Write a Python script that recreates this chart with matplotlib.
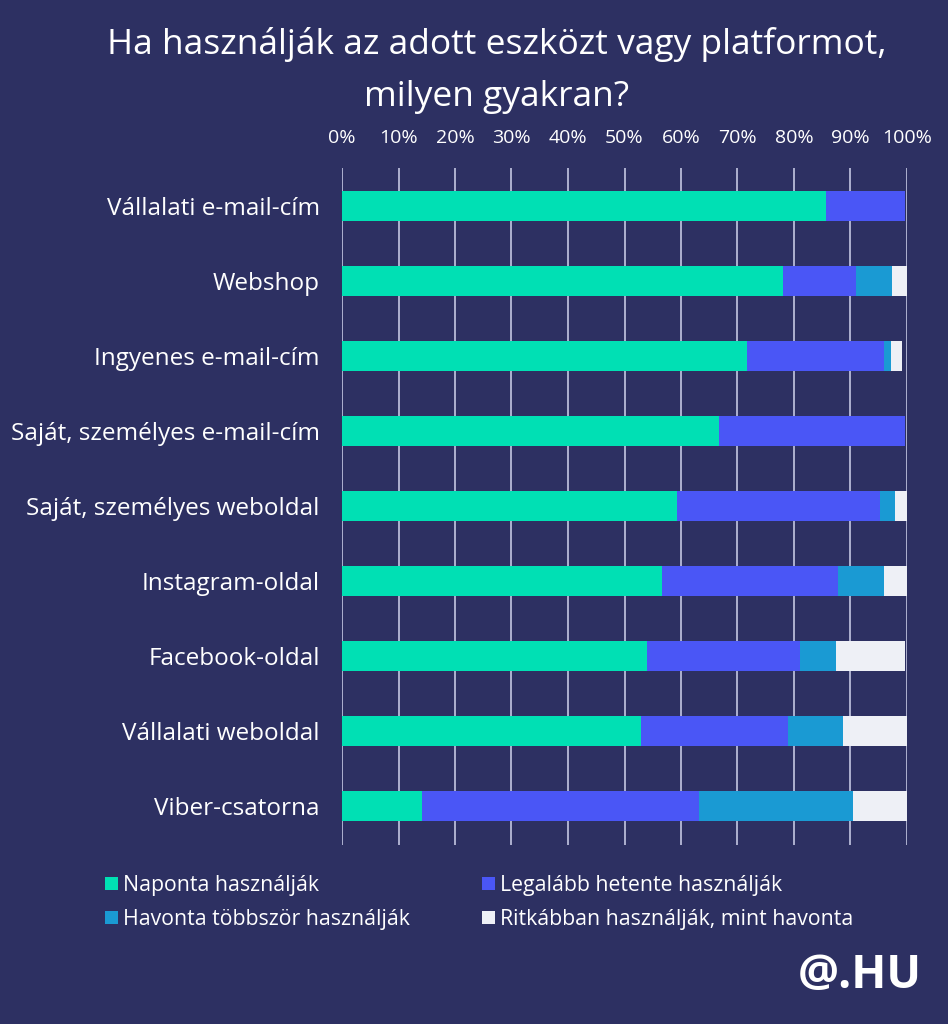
import matplotlib
matplotlib.use('Agg')
import matplotlib.pyplot as plt
import numpy as np

# Data (percent of respondents)
categories = ['Vállalati e-mail-cím', 'Webshop', 'Ingyenes e-mail-cím',
              'Saját, személyes e-mail-cím', 'Saját, személyes weboldal',
              'Instagram-oldal', 'Facebook-oldal', 'Vállalati weboldal',
              'Viber-csatorna']
daily = [85.6, 78.0, 71.7, 66.7, 59.3, 56.6, 53.9, 52.9, 14.2]
weekly = [14.1, 13.0, 24.2, 33.0, 35.9, 31.2, 27.1, 26.0, 49.0]
monthly = [0.0, 6.4, 1.3, 0.0, 2.7, 8.1, 6.5, 9.7, 27.2]
rarely = [0.0, 2.6, 2.0, 0.0, 2.2, 4.1, 12.2, 11.4, 9.6]
series_names = ['Naponta használják', 'Legalább hetente használják',
                'Havonta többször használják', 'Ritkábban használják, mint havonta']
tick_values = [0, 10, 20, 30, 40, 50, 60, 70, 80, 90, 100]

BG = '#2d3062'
colors = ['#00e0b4', '#4a56f6', '#1a9ad3', '#eef0f6']
FONT = 'Open Sans'

fig = plt.figure(figsize=(9.48, 10.24), dpi=100, facecolor=BG)
ax = fig.add_axes([342 / 948, 1 - 845 / 1024, 565 / 948, 677 / 1024], facecolor=BG)

y = np.arange(len(categories))
left = np.zeros(len(categories))
handles = []
for vals, name, col in zip([daily, weekly, monthly, rarely], series_names, colors):
    bars = ax.barh(y, vals, left=left, height=0.4, color=col, label=name, zorder=3)
    handles.append(bars)
    left += np.array(vals)

ax.set_xlim(0, 100)
ax.set_ylim(len(categories) - 0.48, -0.5)
ax.set_xticks(tick_values)
ax.set_xticklabels([f'{v}%' for v in tick_values], fontsize=14, color='white', family=FONT)
ax.xaxis.tick_top()
ax.tick_params(axis='x', length=0, pad=15)
ax.grid(axis='x', color='#c4c7e2', linewidth=1.2, zorder=0)
ax.set_yticks(y)
ax.set_yticklabels(categories, fontsize=17.5, color='white', family=FONT)
ax.tick_params(axis='y', length=0, pad=16)
for s in ax.spines.values():
    s.set_visible(False)

fig.text(497 / 948, 1 - 27 / 1024, 'Ha használják az adott eszközt vagy platformot,\nmilyen gyakran?',
         ha='center', va='top', fontsize=25.5, color='white', family=FONT, linespacing=1.7)

# legend: column-wise order to match the 2x2 layout
order = [0, 2, 1, 3]
leg = fig.legend([handles[i] for i in order], [series_names[i] for i in order],
                 ncol=2, loc='upper left', bbox_to_anchor=(86 / 948, 1 - 856 / 1024),
                 frameon=False, handlelength=0.6, handleheight=0.6,
                 handletextpad=0.25, columnspacing=3.4, labelspacing=0.6,
                 prop={'family': FONT, 'size': 15.3}, labelcolor='white')

fig.text(860 / 948, 1 - 975 / 1024, '@.HU', ha='center', va='center',
         fontsize=33, fontweight='bold', color='white', family=FONT)

plt.savefig('out.png', dpi=100, facecolor=BG)
